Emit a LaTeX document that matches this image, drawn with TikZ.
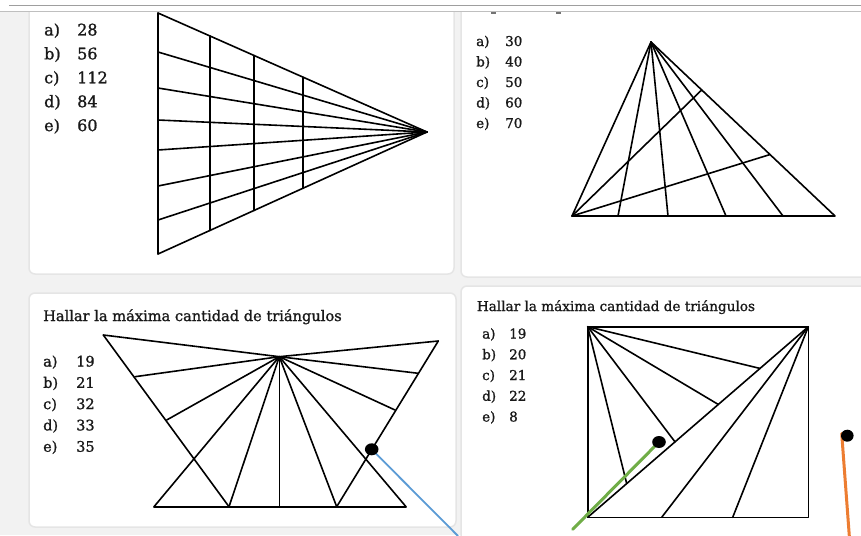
\documentclass[tikz,border=0pt]{standalone}
\usepackage{fontspec}
\setmainfont{DejaVu Serif}
\newfontfamily\semib{DejaVu Serif}[FakeBold=1.2]
\usetikzlibrary{calc}
\definecolor{bluel}{RGB}{91,155,213}
\definecolor{greenl}{RGB}{112,173,71}
\definecolor{orangel}{RGB}{237,125,49}
\definecolor{txtc}{RGB}{25,25,25}
\begin{document}
\begin{tikzpicture}[x=1pt,y=-1pt,
  fig/.style={line width=1.6pt, black, line join=round, line cap=round},
  txt/.style={anchor=base west, inner sep=0pt, text=txtc},
  card/.style={fill=white, draw=black!10, line width=1.5pt, rounded corners=6pt},
  pointer/.style={line width=3pt, line cap=round}]
\useasboundingbox (0,0) rectangle (861,535);
\fill[black!5] (0,0) rectangle (861,535);
% cards
\path[card] (29,2) rectangle (454,274);
\path[card] (461,2) rectangle (880,277);
\path[card] (29,293) rectangle (456,527);
\path[card] (461,286) rectangle (880,550);
% top bar
\fill[white] (0,0) rectangle (861,11);
\draw[black!38, line width=1pt] (9,6) -- (861,6);
\draw[black!25, line width=1.6pt] (0,11.6) -- (861,11.6);
\fill[black!55] (491,12.5) rectangle (496,14);
\fill[black!55] (556,12.5) rectangle (561,14);

% ---------- panel 1 ----------
\coordinate (p1v) at (427,132);
\foreach \y [count=\i] in {13,52,88,120,150,186,220,254} {
  \coordinate (p1l\i) at (158,\y);
  \draw[fig] (p1l\i) -- (p1v);
}
\draw[fig] (p1l1) -- (p1l8);
\foreach \x in {210,254,303}
  \draw[fig] ($(p1l1)!{(\x-158)/269}!(p1v)$) -- ($(p1l8)!{(\x-158)/269}!(p1v)$);
\begin{scope}[font=\semib\fontsize{16}{18}\selectfont]
\foreach \l/\n [count=\i] in {a)/28,b)/56,c)/112,d)/84,e)/60} {
  \node[txt] (p1a\i) at (44,{35.5+23.9*(\i-1)}) {\l};
  \node[txt] (p1n\i) at (77,{35.5+23.9*(\i-1)}) {\n};
}
\end{scope}

% ---------- panel 2 ----------
\coordinate (p2a) at (651,42);
\coordinate (p2l) at (572,216);
\coordinate (p2r) at (835,216);
\draw[fig] (p2a) -- (p2l) -- (p2r) -- cycle;
\foreach \x in {618,668,726,783} \draw[fig] (p2a) -- (\x,216);
\draw[fig] (p2l) -- ($(p2a)!{(701.7-651)/184}!(p2r)$);
\draw[fig] (p2l) -- ($(p2a)!{(770-651)/184}!(p2r)$);
\begin{scope}[font=\semib\fontsize{13.5}{16}\selectfont]
\foreach \l/\n [count=\i] in {a)/30,b)/40,c)/50,d)/60,e)/70} {
  \node[txt] (p2t\i) at (476,{46+20.5*(\i-1)}) {\l};
  \node[txt] (p2n\i) at (505,{46+20.5*(\i-1)}) {\n};
}
\end{scope}

% ---------- panel 3 ----------
\node[txt, font=\semib\fontsize{14.6}{17}\selectfont] (p3title) at (43,321) {Hallar la máxima cantidad de triángulos};
\begin{scope}[font=\semib\fontsize{14.5}{16}\selectfont]
\foreach \l/\n [count=\i] in {a)/19,b)/21,c)/32,d)/33,e)/35} {
  \node[txt] (p3t\i) at (43,{366.5+21.3*(\i-1)}) {\l};
  \node[txt] (p3n\i) at (76,{366.5+21.3*(\i-1)}) {\n};
}
\end{scope}
\coordinate (A) at (279.3,356.7);
\coordinate (TL) at (103.3,335);
\coordinate (TR) at (438.3,341);
\coordinate (L1) at (135,376.7);
\coordinate (L2) at (166.7,420);
\coordinate (R1) at (418.3,373.3);
\coordinate (R2) at (395,410);
\coordinate (B0) at (154,506.7);
\coordinate (B1) at (229,506.7);
\coordinate (B2) at (279.3,506.7);
\coordinate (B3) at (336.7,506.7);
\coordinate (B4) at (406,506.7);
\draw[fig] (TL) -- (A) -- (TR);
\draw[fig] (TL) -- (B1);
\draw[fig] (TR) -- (B3);
\draw[fig] (B0) -- (B4);
\foreach \p in {L1,L2,B0,B1,B2,B3,B4,R1,R2} \draw[fig] (A) -- (\p);

% ---------- panel 4 ----------
\node[txt, font=\semib\fontsize{13.6}{16}\selectfont] (p4title) at (476.7,311) {Hallar la máxima cantidad de triángulos};
\begin{scope}[font=\semib\fontsize{13.5}{16}\selectfont]
\foreach \l/\n [count=\i] in {a)/19,b)/20,c)/21,d)/22,e)/8} {
  \node[txt] (p4t\i) at (482,{338.5+20.75*(\i-1)}) {\l};
  \node[txt] (p4n\i) at (509,{338.5+20.75*(\i-1)}) {\n};
}
\end{scope}
\coordinate (P) at (587.7,326.7);
\coordinate (Q) at (808.3,326.7);
\coordinate (BL) at (587.7,517.3);
\coordinate (BR) at (808.3,517.3);
\draw[fig] (P) -- (Q) -- (BR) -- (BL) -- cycle;
\draw[fig] (BL) -- (Q);
\draw[fig] (Q) -- (661.7,517.3);
\draw[fig] (Q) -- (732.7,517.3);
\foreach \x in {760,718.3,675,626.7}
  \draw[fig] (P) -- ($(BL)!{(\x-587.7)/220.6}!(Q)$);

% ---------- colored markers ----------
\coordinate (d1) at (371.7,449.3);
\coordinate (e1) at (458,536);
\draw[bluel, line width=1.8pt] (d1) -- (e1);
\fill[black] (d1) ellipse [x radius=6.8pt, y radius=6pt];
\coordinate (d2) at (659,442);
\coordinate (e2) at (572.7,529.3);
\draw[greenl, pointer] (d2) -- (e2);
\fill[black] (d2) ellipse [x radius=6.8pt, y radius=6pt];
\coordinate (d3) at (847.3,435.7);
\coordinate (e3) at (849.3,536);
\coordinate (s3) at (841.7,433.5);
\draw[orangel, pointer] (s3) -- (e3);
\fill[black] (d3) ellipse [x radius=6.3pt, y radius=6pt];
\end{tikzpicture}
\end{document}
